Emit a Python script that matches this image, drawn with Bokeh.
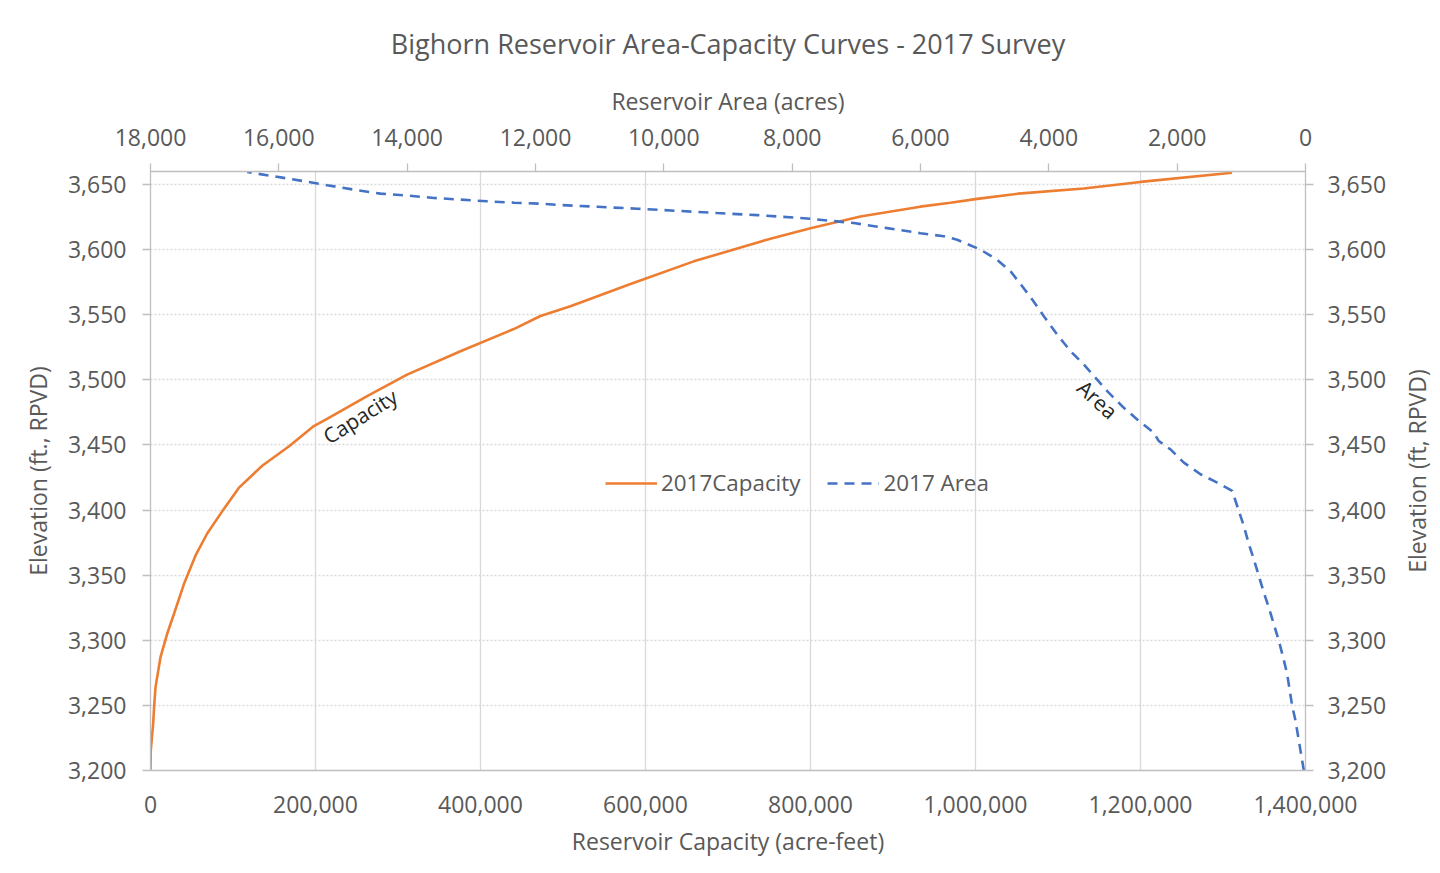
import math
from bokeh.plotting import figure
from bokeh.layouts import row
from bokeh.models import (Range1d, LinearAxis, FixedTicker, NumeralTickFormatter,
                          Legend, LegendItem, Label)
from bokeh.core.properties import value
from bokeh.embed import file_html
from bokeh.resources import INLINE

# ---- data ----
cap_elev = [3200, 3215, 3236, 3250, 3264, 3287, 3305, 3320, 3343, 3365, 3382,
            3399, 3417, 3434, 3449, 3464.5, 3470, 3487.5, 3504, 3522, 3539, 3549,
            3556.5, 3573.6, 3591, 3608.4, 3616.5, 3625.5, 3633, 3636, 3639, 3643,
            3647, 3652, 3659]
capacity = [0, 300, 3200, 4500, 6100, 12100, 20200, 28300, 40400, 54500, 68700,
            86900, 107000, 135400, 168000, 198000, 214000, 262600, 311000, 375700,
            440300, 472700, 509000, 581800, 658500, 751400, 800000, 860500, 933000,
            969600, 1002000, 1052000, 1131000, 1200000, 1311000]

area_elev = [3200, 3215.3, 3223, 3238.3, 3249.8, 3261.3, 3274.1, 3286.9, 3299.7,
             3312.5, 3325.2, 3336.7, 3349.5, 3362.3, 3373.8, 3387.8, 3399.3,
             3414.7, 3421.1, 3427.5, 3436.4, 3446.6, 3453, 3459.4, 3469.6, 3478.5,
             3491.3, 3511.8, 3522, 3534.8, 3548.9, 3561.7, 3571.9, 3583.4, 3592.2,
             3600, 3607.6, 3610.3, 3612.6, 3616.5, 3620.4, 3623.7, 3625.5, 3626.5,
             3628.1, 3629.8, 3631.4, 3632.9, 3634.4, 3635.3, 3636.1, 3637.1,
             3638.4, 3639.7, 3641.5, 3643, 3646.1, 3649.4, 3653, 3656.3, 3659.6]
area = [26, 78, 104, 156, 208, 245, 286, 348, 416,
        494, 572, 650, 728, 806, 883, 961, 1039,
        1142, 1376, 1636, 1896, 2104, 2286, 2364, 2623, 2831,
        3090, 3455, 3662, 3870, 4078, 4259, 4415, 4597, 4805,
        5065, 5428, 5637, 6000, 6519, 7040, 7714, 8234, 8545,
        9169, 9791, 10415, 11038, 11662, 11922, 12338, 12753,
        13168, 13584, 13999, 14415, 14831, 15246, 15662, 16077, 16493]

cap_ticks = [0, 200000, 400000, 600000, 800000, 1000000, 1200000, 1400000]
area_ticks = [0, 2000, 4000, 6000, 8000, 10000, 12000, 14000, 16000, 18000]
elev_ticks = [3200, 3250, 3300, 3350, 3400, 3450, 3500, 3550, 3600, 3650]

TITLE = "Bighorn Reservoir Area-Capacity Curves - 2017 Survey"
RIGHT_TITLE = "Elevation (ft, RPVD)"
FONT = "Open Sans"
TXT = "#595959"
AX = "#BFBFBF"
GRID = "#D9D9D9"
ORANGE = "#ED7D31"
BLUE = "#4472C4"

p = figure(width=1400, height=865, output_backend="svg", toolbar_location=None,
           x_range=Range1d(0, 1400000), y_range=Range1d(3200, 3660),
           min_border_left=150, min_border_right=95, min_border_top=171,
           min_border_bottom=95, x_axis_location="below")
p.extra_x_ranges = {"area": Range1d(18000, 0)}
p.extra_y_ranges = {"elev2": Range1d(3200, 3660)}
p.outline_line_color = None
p.background_fill_color = "white"
p.border_fill_color = "white"

p.title.text = TITLE
p.title.align = "center"
p.title.text_font = FONT
p.title.text_font_size = "27px"
p.title.text_font_style = "normal"
p.title.text_color = TXT
p.title.standoff = 40

def style_axis(ax, label, tick_out, standoff, label_standoff):
    ax.axis_label = label
    ax.axis_label_text_font = FONT
    ax.axis_label_text_font_size = "23px"
    ax.axis_label_text_font_style = "normal"
    ax.axis_label_text_color = TXT
    ax.axis_label_standoff = label_standoff
    ax.major_label_text_font = FONT
    ax.major_label_text_font_size = "23px"
    ax.major_label_text_color = TXT
    ax.major_label_standoff = standoff
    ax.axis_line_color = AX
    ax.axis_line_width = 1.3
    ax.major_tick_line_color = AX
    ax.major_tick_line_width = 1.3
    ax.major_tick_out = tick_out
    ax.major_tick_in = 0
    ax.minor_tick_line_color = None
    ax.formatter = NumeralTickFormatter(format="0,0")

# bottom axis
xb = p.xaxis[0]
xb.ticker = FixedTicker(ticks=cap_ticks)
style_axis(xb, "Reservoir Capacity (acre-feet)", 0, 25, 9)

# left axis
yl = p.yaxis[0]
yl.ticker = FixedTicker(ticks=elev_ticks)
style_axis(yl, "Elevation (ft., RPVD)", 8, 16, 11)

# top axis
xt = LinearAxis(x_range_name="area", ticker=FixedTicker(ticks=area_ticks))
style_axis(xt, "Reservoir Area (acres)", 8, 18, 9)
p.add_layout(xt, "above")

# right axis
yr = LinearAxis(y_range_name="elev2", ticker=FixedTicker(ticks=elev_ticks))
style_axis(yr, None, 8, 14, 0)
p.add_layout(yr, "right")

# grids
p.xgrid.ticker = FixedTicker(ticks=cap_ticks)
p.xgrid.grid_line_color = GRID
p.xgrid.grid_line_width = 1.3
p.ygrid.ticker = FixedTicker(ticks=elev_ticks)
p.ygrid.grid_line_color = GRID
p.ygrid.grid_line_width = 1.3
p.ygrid.grid_line_dash = "2 2"

r_cap = p.line(capacity, cap_elev, line_color=ORANGE, line_width=2.6)
r_area = p.line(area, area_elev, line_color=BLUE, line_width=2.6,
                line_dash="10 7", x_range_name="area")

legend = Legend(items=[LegendItem(label="2017Capacity", renderers=[r_cap]),
                       LegendItem(label="2017 Area", renderers=[r_area])],
                orientation="horizontal", location=(455, 272),
                label_text_font=FONT, label_text_font_size="22.4px",
                label_text_color=TXT, glyph_width=52, label_standoff=4,
                spacing=27, padding=0, margin=0, border_line_color=None,
                background_fill_alpha=0)
p.add_layout(legend, "center")

p.add_layout(Label(x=254000, y=3472, text="Capacity", angle=0.56,
                   text_align="center", text_baseline="middle",
                   text_font=FONT, text_font_size="21px", text_color="#262626"))
p.add_layout(Label(x=1148000, y=3485, text="Area", angle=-0.74,
                   text_align="center", text_baseline="middle",
                   text_font=FONT, text_font_size="21px", text_color="#262626"))

# narrow strip to the right carrying the secondary axis title (reads bottom-to-top)
q = figure(width=32, height=865, output_backend="svg", toolbar_location=None,
           x_range=Range1d(0, 1), y_range=Range1d(3200, 3660),
           min_border_left=0, min_border_right=0, min_border_top=171,
           min_border_bottom=95)
q.axis.visible = False
q.grid.visible = False
q.outline_line_color = None
q.border_fill_color = "white"
q.text(x=[0.5], y=[3430], text=[RIGHT_TITLE], angle=math.pi / 2,
       text_align="center", text_baseline="middle",
       text_font=value(FONT), text_font_size="23px", text_color=TXT)

layout = row(p, q, spacing=0)
open("out.html", "w").write(file_html(layout, INLINE))
